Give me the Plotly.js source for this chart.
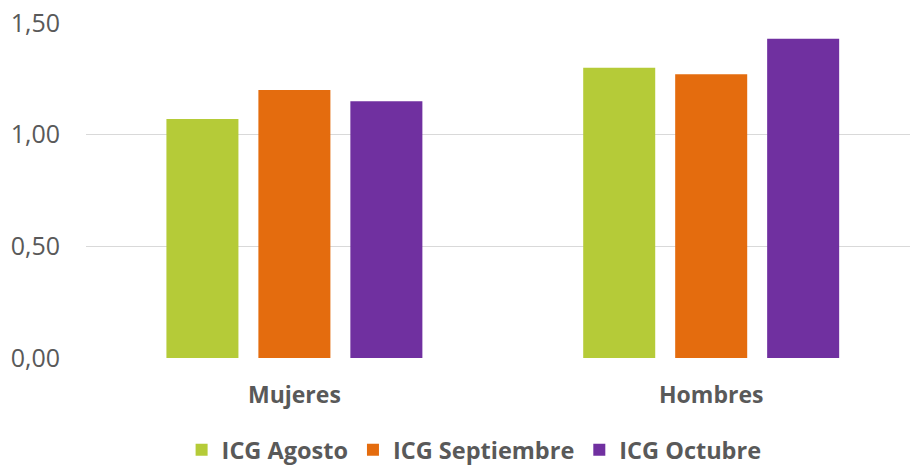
<!DOCTYPE html>
<html>
<head>
<meta charset="utf-8">
<script src="https://cdn.plot.ly/plotly-3.0.1.min.js"></script>
<style>html,body{margin:0;padding:0;background:#fff;}#chart{width:910px;height:465px;}</style>
</head>
<body>
<div id="chart"></div>
<script>
const categories = ["Mujeres", "Hombres"];
const seriesNames = ["ICG Agosto", "ICG Septiembre", "ICG Octubre"];
const agosto = [1.07, 1.30];
const septiembre = [1.20, 1.27];
const octubre = [1.15, 1.43];
const yTicks = [0, 0.5, 1.0, 1.5];
const colors = ["#B5CB38", "#E46C0E", "#7030A0"];
const values = [agosto, septiembre, octubre];

const traces = values.map((v, i) => ({
  type: "bar",
  name: seriesNames[i],
  x: categories,
  y: v,
  marker: {color: colors[i]},
  hoverinfo: "none"
}));

const layout = {
  width: 910, height: 465,
  margin: {l: 85.5, r: 0, t: 23, b: 107, autoexpand: false},
  paper_bgcolor: "#fff", plot_bgcolor: "#fff",
  separators: ",.",
  barmode: "group",
  bargap: 0.338,
  bargroupgap: 0.217,
  font: {family: "Open Sans, sans-serif", color: "#595959"},
  xaxis: {
    type: "category",
    range: [-0.5, 1.477],
    showgrid: false, zeroline: false, showline: false,
    ticks: "",
    automargin: false,
    ticklabelstandoff: 21,
    tickfont: {size: 23, weight: "bold", color: "#595959"}
  },
  yaxis: {
    range: [0, 1.5],
    tickvals: yTicks,
    tickformat: ".2f",
    showgrid: true, gridcolor: "#D9D9D9", gridwidth: 1.5,
    zeroline: false, showline: false, ticks: "",
    automargin: false,
    ticklabelstandoff: 25,
    tickfont: {size: 25, color: "#595959"}
  },
  showlegend: true,
  legend: {
    orientation: "h",
    x: 0.471, xanchor: "center",
    y: -0.2746, yanchor: "middle",
    font: {size: 23.5, weight: "bold", color: "#595959"},
    itemwidth: 30,
    traceorder: "normal"
  }
};

Plotly.newPlot("chart", traces, layout, {displayModeBar: false, staticPlot: true});
</script>
</body>
</html>
